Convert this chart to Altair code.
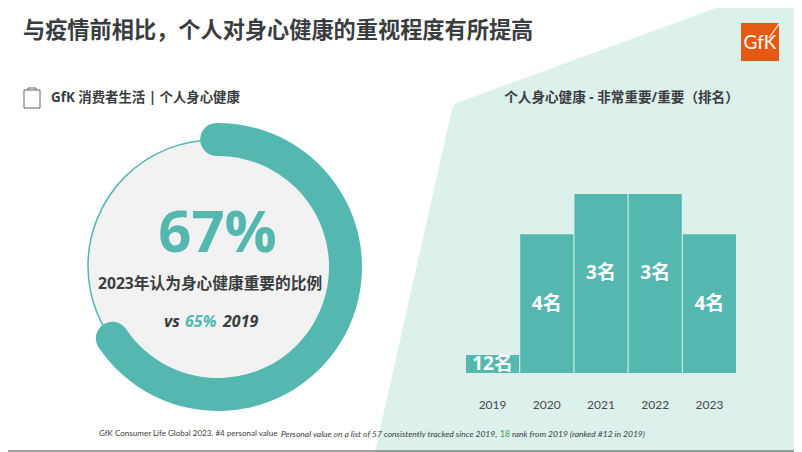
import altair as alt
import pandas as pd

years = ["2019", "2020", "2021", "2022", "2023"]
scores = [1.0, 7.75, 10.0, 10.0, 7.75]
ranks = ["12名", "4名", "3名", "3名", "4名"]
ring_start = [0]
ring_end = [67]

TEAL = "#54b8b0"
DARK = "#3a3d40"
CJK = "Open Sans, Noto Sans CJK SC"
LAT = "Lato, Noto Sans CJK SC"

OX, OY = 8, 8  # page margin: reference coordinates minus this give chart coordinates


def path(points, close=True):
    s = "M" + " L".join(f"{x-OX} {y-OY}" for x, y in points)
    return s + (" Z" if close else "")


one = pd.DataFrame({"k": [0]})


def shape(d, fill=None, stroke=None, sw=0):
    kw = dict(shape=d, size=4, opacity=1, filled=fill is not None, strokeWidth=sw)
    if fill:
        kw["fill"] = fill
    if stroke:
        kw["stroke"] = stroke
    return alt.Chart(one).mark_point(**kw).encode(x=alt.value(0), y=alt.value(0))


def label(t, x, y, size, color=DARK, weight="normal", style="normal", align="left", font=CJK):
    return (
        alt.Chart(pd.DataFrame({"t": [t]}))
        .mark_text(fontSize=size, color=color, fontWeight=weight, fontStyle=style,
                   align=align, baseline="middle", font=font)
        .encode(x=alt.value(x - OX), y=alt.value(y - OY), text="t:N")
    )


bg = shape("M708 0 L786 0 L786 444 L367 444 L444 101 Q445 97 449 95 Z", fill="#dcf0ec")
frame = shape("M0 443 L786 443", stroke="#7f7f7f", sw=1.5)
logo = shape(path([(741, 23), (779, 23), (779, 61), (741, 61)]), fill="#e55a12")
logo_cut = shape(path([(769, 38), (781, 21)], close=False), stroke="#ffffff", sw=1.2)
clip = shape(
    "M16 82 L32 82 L32 100 L16 100 Z M20 82 L20 80 L28 80 L28 82", stroke="#555555", sw=0.9
)

disc = (
    alt.Chart(one)
    .mark_point(shape="circle", size=63504, filled=True, fill="#f2f2f2", stroke=TEAL,
                strokeWidth=1.5, opacity=1)
    .encode(x=alt.value(214 - OX), y=alt.value(266 - OY))
)

ring = (
    alt.Chart(pd.DataFrame({"a": ring_start, "b": ring_end}))
    .mark_arc(innerRadius=111, outerRadius=144, cornerRadius=16.5, fill=TEAL)
    .encode(
        theta=alt.Theta("a:Q", scale=alt.Scale(domain=[0, 100], range=[-0.14, 6.41])),
        theta2="b:Q",
        x=alt.value(218 - OX),
        y=alt.value(267 - OY),
    )
)

frame_df = pd.DataFrame({"year": years, "score": scores, "rank": ranks})
xs = alt.Scale(domain=years, range=[458, 728], paddingInner=0.02, paddingOuter=0)
ys = alt.Scale(domain=[0, 10], range=[365, 186])

bars = (
    alt.Chart(frame_df)
    .mark_bar(fill=TEAL)
    .encode(
        x=alt.X(
            "year:N", scale=xs, title=None,
            axis=alt.Axis(orient="bottom", offset=-79, labelPadding=26, domain=False, ticks=False,
                          grid=False, labelAngle=0, labelFont="Lato", labelFontSize=12,
                          labelColor="#4a4a4a", zindex=1),
        ),
        y=alt.Y("score:Q", scale=ys, axis=None),
    )
)

rank_text = (
    alt.Chart(frame_df)
    .transform_calculate(mid="datum.score / 2 + (datum.score == 10 ? 0.61 : 0)")
    .mark_text(fontSize=19, fontWeight="bold", color="#ffffff", font=CJK, baseline="middle")
    .encode(
        x=alt.X("year:N", scale=xs),
        y=alt.Y("mid:Q", scale=ys),
        text="rank:N",
    )
)

layers = [
    bg, frame, logo, logo_cut, clip,
    label("GfK", 760, 43, 19, color="#ffffff", align="center", font=LAT),
    label("与疫情前相比，个人对身心健康的重视程度有所提高", 23, 31, 22.2, weight="bold"),
    label("GfK 消费者生活 | 个人身心健康", 51, 98, 13.4, weight="bold"),
    label("个人身心健康 - 非常重要/重要（排名）", 621.5, 98, 13.6, weight="bold", align="center"),
    disc, ring,
    label("67%", 217.5, 235, 58, color=TEAL, weight="bold", align="center"),
    label("2023年认为身心健康重要的比例", 210, 284, 15.7, weight="bold", align="center"),
    label("vs", 164, 322, 16, weight="bold", style="italic"),
    label("65%", 185, 322, 16, color=TEAL, weight="bold", style="italic"),
    label("2019", 223, 322, 16, weight="bold", style="italic"),
    bars, rank_text,
    label("GfK Consumer Life Global 2023. #4 personal value", 99, 434, 8.05, font=LAT),
    label("Personal value on a list of 57 consistently tracked since 2019,", 281, 434, 8.5, style="italic", font=LAT),
    label("18", 500, 434, 8.5, color="#3f9a57", font=LAT),
    label("rank from 2019 (ranked #12 in 2019)", 512, 434, 8.5, style="italic", font=LAT),
]

chart = (
    alt.layer(*layers)
    .properties(width=786, height=444, padding=0, background="#ffffff",
                autosize=alt.AutoSizeParams(type="none"))
    .configure_view(stroke=None)
)

chart.save("out.html", embed_options={"renderer": "svg", "actions": False})
